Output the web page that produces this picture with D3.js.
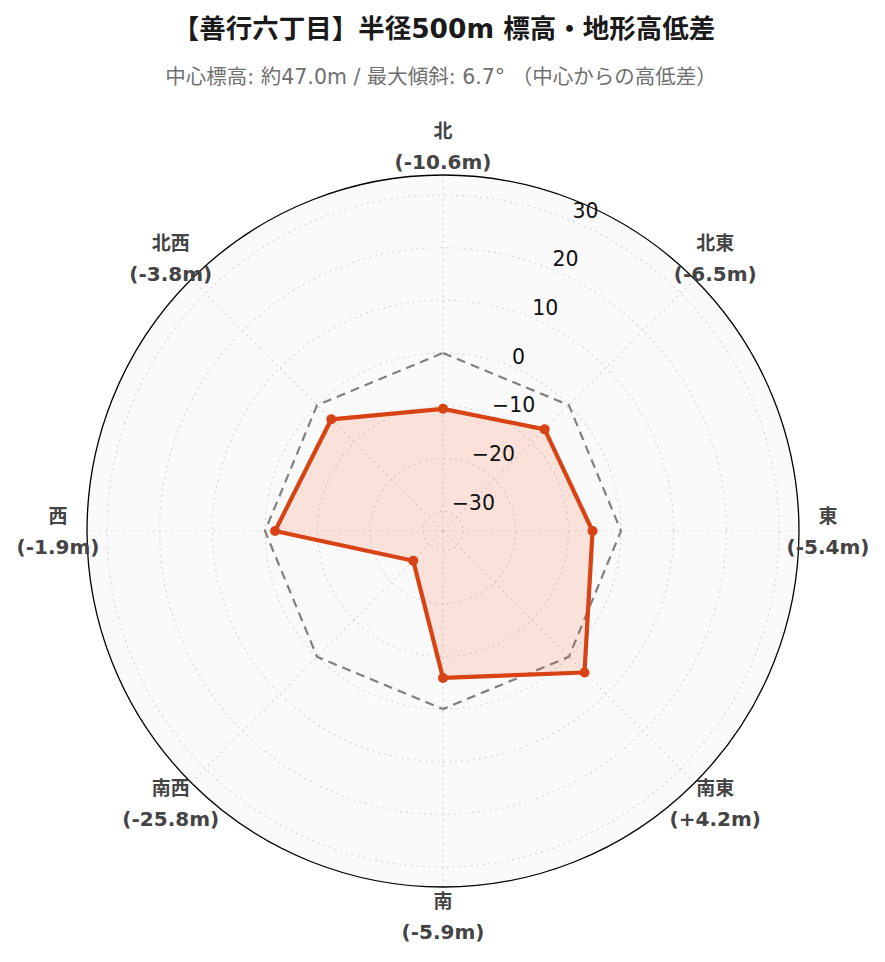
<!DOCTYPE html>
<html>
<head>
<meta charset="utf-8">
<script src="https://cdn.jsdelivr.net/npm/d3@7"></script>
<style>
  html, body { margin: 0; padding: 0; background: #fff; }
  svg { display: block; font-family: "DejaVu Sans", "Noto Sans CJK JP", sans-serif; }
</style>
</head>
<body>
<svg id="chart" width="885" height="962"></svg>
<script>
// ---- data ----
const titleText = "【善行六丁目】半径500m 標高・地形高低差";
const subtitleText = "中心標高: 約47.0m / 最大傾斜: 6.7° （中心からの高低差）";
const directions = ["北", "北東", "東", "南東", "南", "南西", "西", "北西"];
const elevationDiff = [-10.6, -6.5, -5.4, 4.2, -5.9, -25.8, -1.9, -3.8];
const referenceLevel = [0, 0, 0, 0, 0, 0, 0, 0];
const radialTicks = [-30, -20, -10, 0, 10, 20, 30];
const radialRange = [-33.8, 33.8];

// ---- layout ----
const cx = 443, cy = 531, R = 356;
const svg = d3.select("#chart");

const r = d3.scaleLinear().domain(radialRange).range([0, R]);
const ang = d3.scaleLinear().domain([0, directions.length]).range([0, 2 * Math.PI]);
const fmtLabel = v => (v > 0 ? "+" : v < 0 ? "-" : "") + Math.abs(v).toFixed(1) + "m";

// title
svg.append("text")
  .attr("x", 444).attr("y", 28)
  .attr("text-anchor", "middle").attr("dominant-baseline", "central")
  .attr("font-size", 26.5).attr("font-weight", "bold").attr("fill", "#1a1a1a")
  .text(titleText);
svg.append("text")
  .attr("x", 441).attr("y", 77)
  .attr("text-anchor", "middle").attr("dominant-baseline", "central")
  .attr("font-size", 20.5).attr("fill", "#707070")
  .text(subtitleText);

const g = svg.append("g").attr("transform", `translate(${cx},${cy})`);

// background
g.append("circle").attr("r", R).attr("fill", "#fafafa");

// radial grid circles
g.selectAll("circle.grid").data(radialTicks).join("circle")
  .attr("class", "grid")
  .attr("r", d => r(d))
  .attr("fill", "none").attr("stroke", "#d4d8dc").attr("stroke-width", 1.2)
  .attr("stroke-dasharray", "2,4");

// angular grid lines
g.selectAll("line.agrid").data(directions).join("line")
  .attr("class", "agrid")
  .attr("x1", 0).attr("y1", 0)
  .attr("x2", (d, i) => R * Math.sin(ang(i)))
  .attr("y2", (d, i) => -R * Math.cos(ang(i)))
  .attr("stroke", "#d4d8dc").attr("stroke-width", 1.2)
  .attr("stroke-dasharray", "2,4");

// reference (0 m) dashed octagon
const refLine = d3.lineRadial()
  .angle((d, i) => ang(i)).radius(d => r(d))
  .curve(d3.curveLinearClosed);
g.append("path").datum(referenceLevel)
  .attr("d", refLine)
  .attr("fill", "none").attr("stroke", "#808080").attr("stroke-width", 2.2)
  .attr("stroke-dasharray", "9,6");

// data polygon
const dataLine = d3.lineRadial()
  .angle((d, i) => ang(i)).radius(d => r(d))
  .curve(d3.curveLinearClosed);
g.append("path").datum(elevationDiff)
  .attr("d", dataLine)
  .attr("fill", "rgba(255,87,34,0.15)")
  .attr("stroke", "#d84315").attr("stroke-width", 4.2)
  .attr("stroke-linejoin", "round");

g.selectAll("circle.pt").data(elevationDiff).join("circle")
  .attr("class", "pt")
  .attr("cx", (d, i) => r(d) * Math.sin(ang(i)))
  .attr("cy", (d, i) => -r(d) * Math.cos(ang(i)))
  .attr("r", 5)
  .attr("fill", "#d84315");

// outer border
g.append("circle").attr("r", R).attr("fill", "none")
  .attr("stroke", "#000").attr("stroke-width", 1.3);

// radial tick labels (axis at 22.5° clockwise from north)
const tickAngle = Math.PI / 8;
const tickFmt = d3.format("d");
g.selectAll("text.rtick").data(radialTicks).join("text")
  .attr("class", "rtick")
  .attr("x", d => r(d) * Math.sin(tickAngle) + 1)
  .attr("y", d => -r(d) * Math.cos(tickAngle) - 10)
  .attr("text-anchor", "start").attr("dominant-baseline", "central")
  .attr("font-size", 20.5).attr("fill", "#111")
  .text(d => tickFmt(d));

// angular labels
const labelR = 385;
const lab = g.selectAll("g.alab").data(directions).join("g")
  .attr("class", "alab")
  .attr("transform", (d, i) => `translate(${labelR * Math.sin(ang(i))},${-labelR * Math.cos(ang(i))})`);
lab.append("text")
  .attr("y", -15.5)
  .attr("text-anchor", "middle").attr("dominant-baseline", "central")
  .attr("font-size", 19).attr("font-weight", "bold").attr("fill", "#444")
  .text(d => d);
lab.append("text")
  .attr("y", 15.5)
  .attr("text-anchor", "middle").attr("dominant-baseline", "central")
  .attr("font-size", 20).attr("font-weight", "bold").attr("fill", "#444")
  .text((d, i) => "(" + fmtLabel(elevationDiff[i]) + ")");
</script>
</body>
</html>
